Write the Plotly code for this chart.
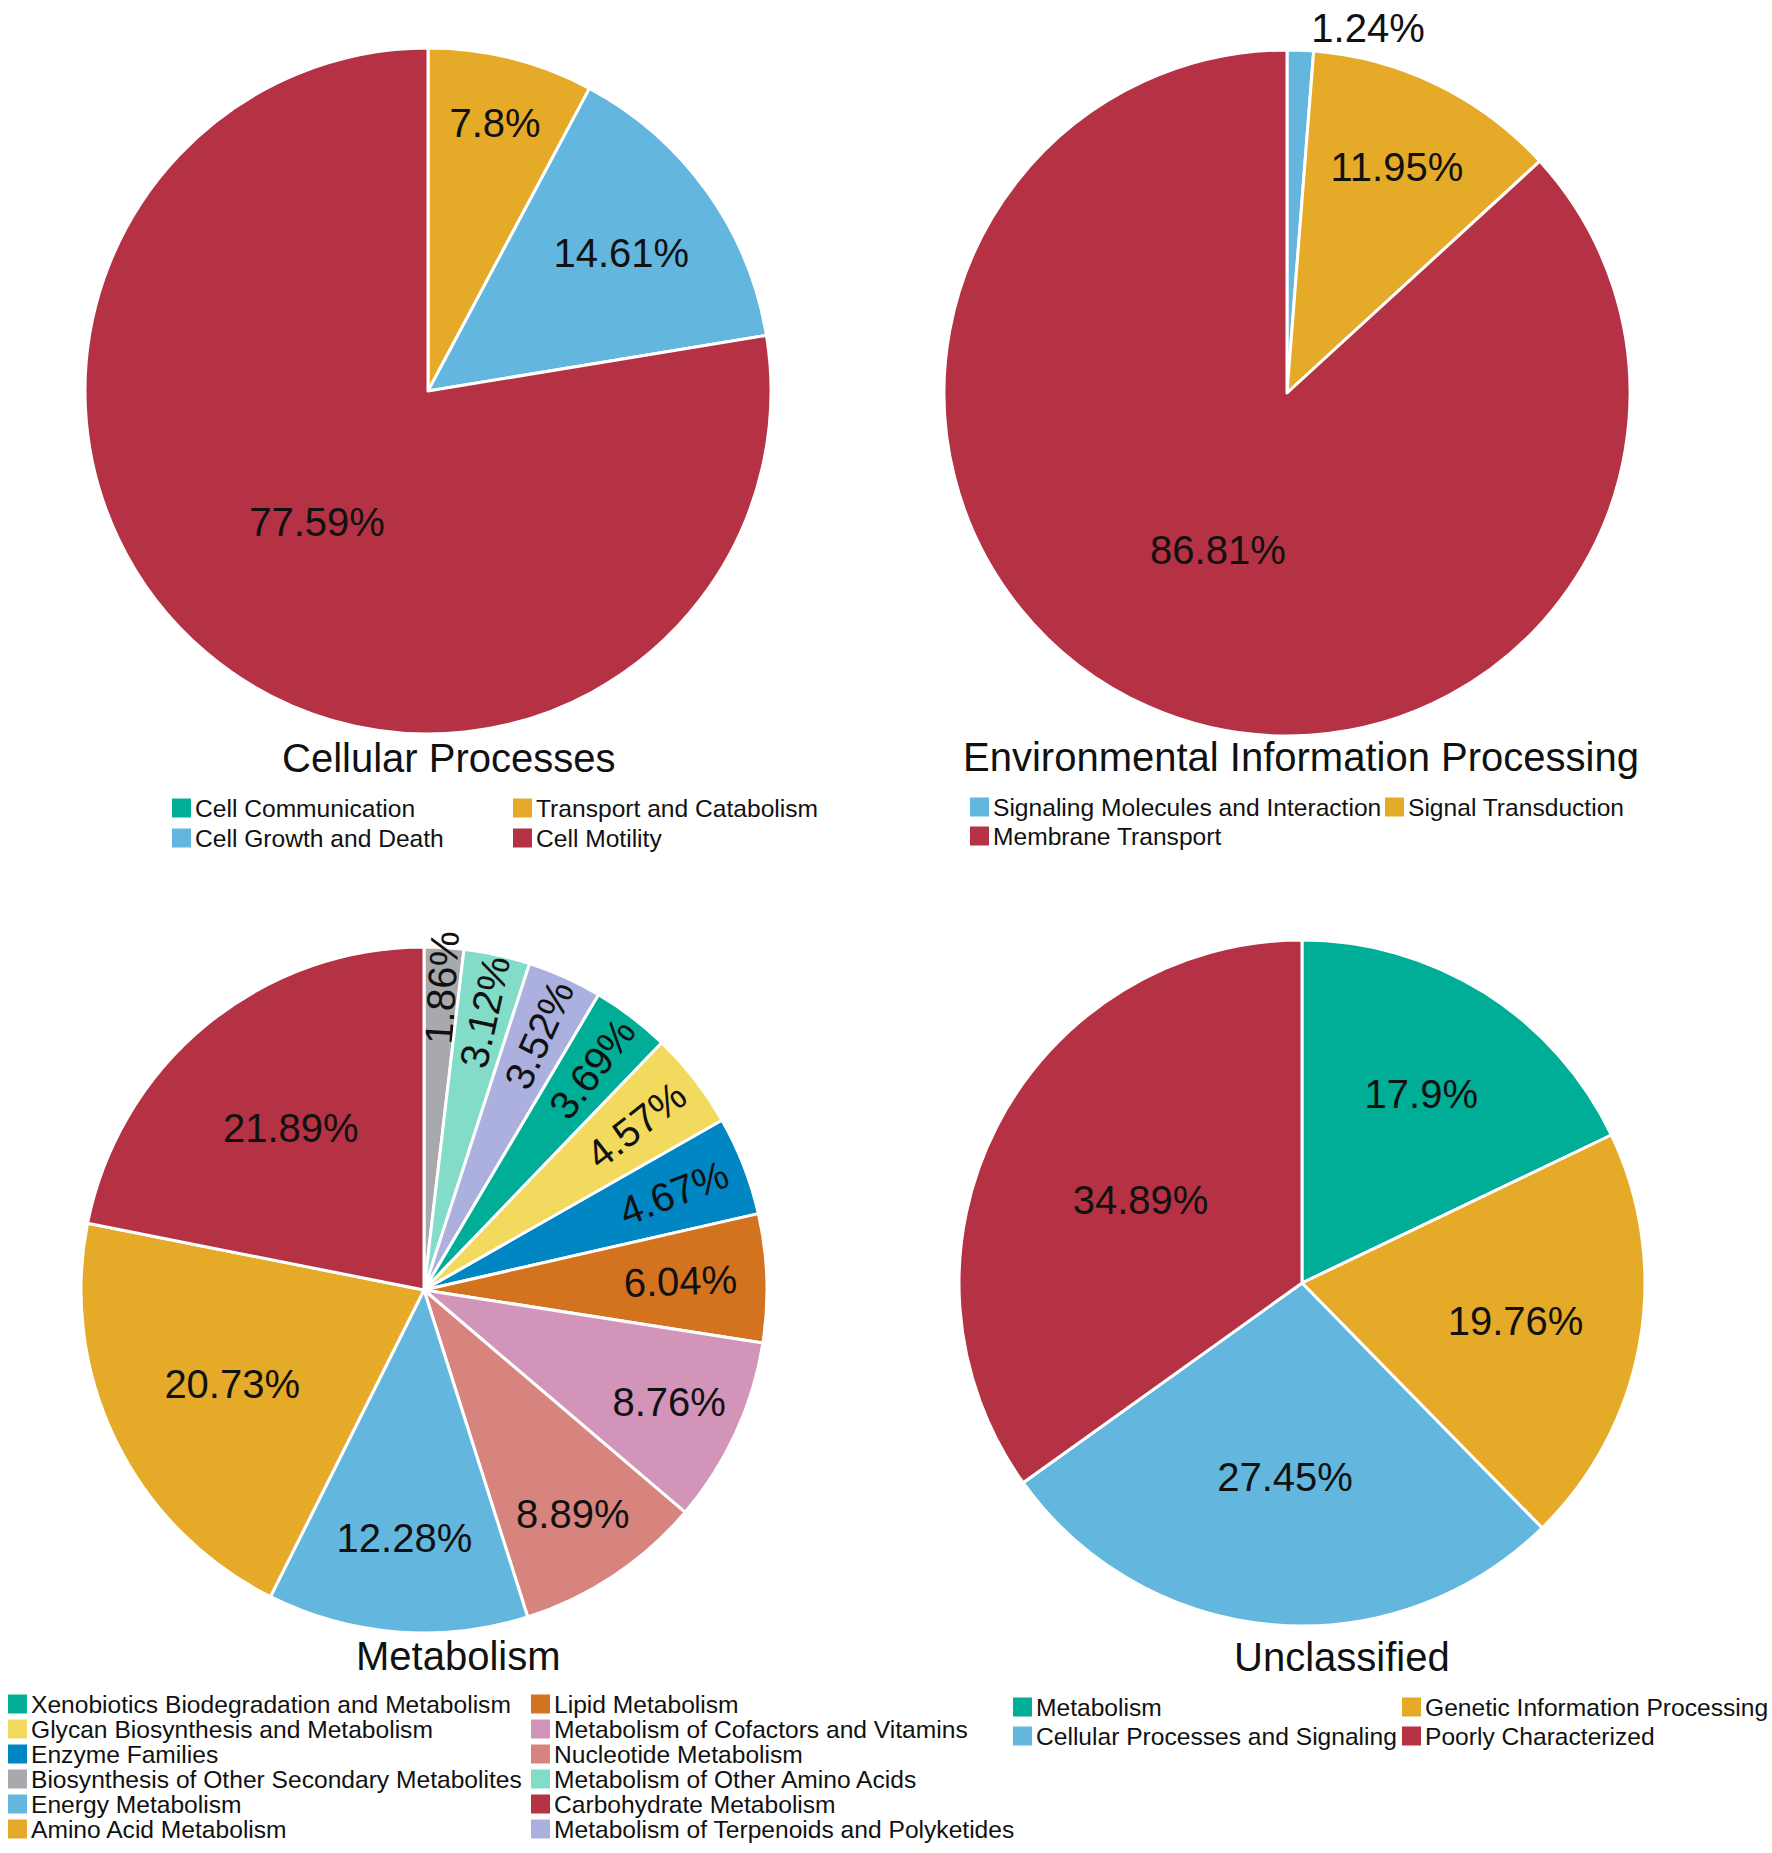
import plotly.graph_objects as go

# --- data (clockwise from 12 o'clock) ---
cellular_labels = ["Cell Communication", "Transport and Catabolism", "Cell Growth and Death", "Cell Motility"]
cellular_values = [0, 7.8, 14.61, 77.59]

env_labels = ["Signaling Molecules and Interaction", "Signal Transduction", "Membrane Transport"]
env_values = [1.24, 11.95, 86.81]

metab_labels = ["Biosynthesis of Other Secondary Metabolites", "Metabolism of Other Amino Acids",
                "Metabolism of Terpenoids and Polyketides", "Xenobiotics Biodegradation and Metabolism",
                "Glycan Biosynthesis and Metabolism", "Enzyme Families", "Lipid Metabolism",
                "Metabolism of Cofactors and Vitamins", "Nucleotide Metabolism", "Energy Metabolism",
                "Amino Acid Metabolism", "Carbohydrate Metabolism"]
metab_values = [1.86, 3.12, 3.52, 3.69, 4.57, 4.67, 6.04, 8.76, 8.89, 12.28, 20.73, 21.89]

unclass_labels = ["Metabolism", "Genetic Information Processing", "Cellular Processes and Signaling",
                  "Poorly Characterized"]
unclass_values = [17.9, 19.76, 27.45, 34.89]

# legend layout (columns of labels)
cellular_legend = [["Cell Communication", "Cell Growth and Death"],
                   ["Transport and Catabolism", "Cell Motility"]]
env_legend = [["Signaling Molecules and Interaction", "Membrane Transport"],
              ["Signal Transduction"]]
metab_legend = [["Xenobiotics Biodegradation and Metabolism", "Glycan Biosynthesis and Metabolism",
                 "Enzyme Families", "Biosynthesis of Other Secondary Metabolites", "Energy Metabolism",
                 "Amino Acid Metabolism"],
                ["Lipid Metabolism", "Metabolism of Cofactors and Vitamins", "Nucleotide Metabolism",
                 "Metabolism of Other Amino Acids", "Carbohydrate Metabolism",
                 "Metabolism of Terpenoids and Polyketides"]]
unclass_legend = [["Metabolism", "Cellular Processes and Signaling"],
                  ["Genetic Information Processing", "Poorly Characterized"]]

# colours
TEAL, GOLD, BLUE, RED = "#00AE97", "#E5AB28", "#63B7DE", "#B43244"
cellular_colors = [TEAL, GOLD, BLUE, RED]
env_colors = [BLUE, GOLD, RED]
metab_colors = ["#A8A9AD", "#83DCC8", "#ABB0DE", TEAL, "#F2DA5E", "#0086C2", "#D4731F",
                "#D294B8", "#D7847F", BLUE, GOLD, RED]
unclass_colors = [TEAL, GOLD, BLUE, RED]

W, H = 1772, 1853
R = 343
FONT = "Liberation Sans, Arial, sans-serif"


def dom(cx, cy):
    return dict(x=[(cx - R) / W, (cx + R) / W], y=[1 - (cy + R) / H, 1 - (cy - R) / H])


def pie(labels, values, colors, cx, cy, textpos="inside"):
    return go.Pie(
        labels=labels, values=values, sort=False, direction="clockwise", rotation=0,
        text=[f"{v}%" if v else "" for v in values], textinfo="text",
        textposition=textpos, insidetextorientation="auto",
        textfont=dict(size=40, color="#111111", family=FONT),
        marker=dict(colors=colors, line=dict(color="white", width=3)),
        domain=dom(cx, cy), showlegend=False, hoverinfo="label+text",
    )


fig = go.Figure()
fig.add_trace(pie(cellular_labels, cellular_values, cellular_colors, 428, 391))
fig.add_trace(pie(env_labels, env_values, env_colors, 1287, 393, ["outside", "inside", "inside"]))
fig.add_trace(pie(metab_labels, metab_values, metab_colors, 424, 1290))
fig.add_trace(pie(unclass_labels, unclass_values, unclass_colors, 1302, 1283))

annotations = []
shapes = []

# panel titles
for title, tx, ty in [("Cellular Processes", 448, 758), ("Environmental Information Processing", 1301, 757),
                      ("Metabolism", 458, 1656), ("Unclassified", 1342, 1657)]:
    annotations.append(dict(text=title, x=tx / W, y=1 - ty / H, xref="paper", yref="paper",
                            xanchor="center", yanchor="middle", showarrow=False,
                            font=dict(size=40, color="#111111", family=FONT)))


def add_legend(cols, labels, colors, col_x, y0, dy, sq=19):
    cmap = dict(zip(labels, colors))
    for ci, col in enumerate(cols):
        for ri, lab in enumerate(col):
            x = col_x[ci]
            y = y0 + ri * dy
            shapes.append(dict(type="rect", xref="paper", yref="paper",
                               x0=x / W, x1=(x + sq) / W,
                               y0=1 - (y + sq / 2) / H, y1=1 - (y - sq / 2) / H,
                               fillcolor=cmap[lab], line=dict(width=0)))
            annotations.append(dict(text=lab, x=(x + sq + 2) / W, y=1 - y / H,
                                    xref="paper", yref="paper", xanchor="left", yanchor="middle",
                                    showarrow=False, font=dict(size=24.6, color="#111111", family=FONT)))


add_legend(cellular_legend, cellular_labels, cellular_colors, [172, 513], 808, 30)
add_legend(env_legend, env_labels, env_colors, [970, 1385], 807, 29)
add_legend(metab_legend, metab_labels, metab_colors, [8, 531], 1704, 25)
add_legend(unclass_legend, unclass_labels, unclass_colors, [1013, 1402], 1707, 29)

fig.update_layout(
    width=W, height=H,
    margin=dict(l=0, r=0, t=0, b=0),
    paper_bgcolor="white", plot_bgcolor="white",
    font=dict(family=FONT),
    uniformtext=dict(minsize=40, mode="show"),
    annotations=annotations, shapes=shapes,
)

# drop the page's default body margin so the figure sits flush in the window
fig.write_html("out.html", config={"displayModeBar": False},
               post_script="document.body.style.margin='0px';")
